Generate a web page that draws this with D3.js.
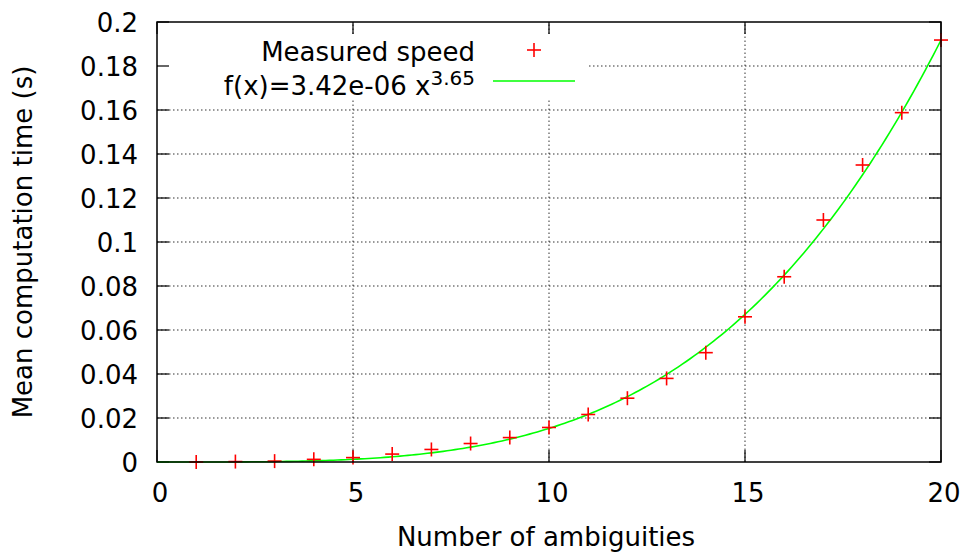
<!DOCTYPE html>
<html>
<head>
<meta charset="utf-8">
<script src="https://cdn.jsdelivr.net/npm/d3@7"></script>
<style>
  body { margin: 0; background: #fff; }
  svg { display: block; font-family: "DejaVu Sans", sans-serif; }
</style>
</head>
<body>
<div id="chart"></div>
<script>
// measured points
const ambiguities = [1, 2, 3, 4, 5, 6, 7, 8, 9, 10, 11, 12, 13, 14, 15, 16, 17, 18, 19, 20];
const meanTime = [0.0000, 0.0002, 0.0004, 0.0012, 0.0020, 0.0036, 0.0057, 0.0084, 0.0111, 0.0157,
                  0.0216, 0.0290, 0.0380, 0.0497, 0.0660, 0.0842, 0.1100, 0.1350, 0.1588, 0.1918];

// fitted power law shown in the key
const fitA = 3.42e-06;
const fitB = 3.65;

const xTicks = [0, 5, 10, 15, 20];
const yTicks = [0, 0.02, 0.04, 0.06, 0.08, 0.1, 0.12, 0.14, 0.16, 0.18, 0.2];
const yTickLabels = ["0", "0.02", "0.04", "0.06", "0.08", "0.1", "0.12", "0.14", "0.16", "0.18", "0.2"];

const width = 963, height = 552;
const margin = {left: 157, right: 22, top: 22, bottom: 90};
const fontSize = 26;

const svg = d3.select("#chart").append("svg")
  .attr("width", width)
  .attr("height", height);

const x = d3.scaleLinear().domain([0, 20]).range([margin.left, width - margin.right]);
const y = d3.scaleLinear().domain([0, 0.2]).range([height - margin.bottom, margin.top]);

const x0 = x.range()[0], x1 = x.range()[1];
const yb = y.range()[0], yt = y.range()[1];

// dotted grid
const grid = svg.append("g")
  .attr("stroke", "#000")
  .attr("stroke-opacity", 0.8)
  .attr("stroke-width", 1)
  .attr("stroke-dasharray", "1.5,2.5");

grid.selectAll(".vg").data(xTicks.slice(1, -1)).enter().append("line")
  .attr("x1", d => x(d)).attr("x2", d => x(d))
  .attr("y1", yb).attr("y2", yt);

grid.selectAll(".hg").data(yTicks.slice(1, -1)).enter().append("line")
  .attr("x1", x0).attr("x2", x1)
  .attr("y1", d => y(d)).attr("y2", d => y(d));

// opaque key background
svg.append("rect")
  .attr("x", x0 + 1).attr("y", 36)
  .attr("width", 431).attr("height", 62)
  .attr("fill", "#fff");

// ticks on all four sides
const tickLen = 12;
const ticks = svg.append("g").attr("stroke", "#000").attr("stroke-width", 1.2);
xTicks.forEach(t => {
  ticks.append("line").attr("x1", x(t)).attr("x2", x(t)).attr("y1", yb).attr("y2", yb - tickLen);
  ticks.append("line").attr("x1", x(t)).attr("x2", x(t)).attr("y1", yt).attr("y2", yt + tickLen);
});
yTicks.forEach(t => {
  ticks.append("line").attr("x1", x0).attr("x2", x0 + tickLen).attr("y1", y(t)).attr("y2", y(t));
  ticks.append("line").attr("x1", x1).attr("x2", x1 - tickLen).attr("y1", y(t)).attr("y2", y(t));
});

// tick labels
svg.selectAll(".xl").data(xTicks).enter().append("text")
  .attr("x", d => x(d) + 3)
  .attr("y", 502)
  .attr("text-anchor", "middle")
  .attr("font-size", fontSize)
  .text(d => d);

svg.selectAll(".yl").data(yTicks).enter().append("text")
  .attr("x", 138)
  .attr("y", d => y(d) + 10)
  .attr("text-anchor", "end")
  .attr("font-size", fontSize)
  .text((d, i) => yTickLabels[i]);

// axis titles
svg.append("text")
  .attr("x", (x0 + x1) / 2 - 3)
  .attr("y", 546)
  .attr("text-anchor", "middle")
  .attr("font-size", fontSize)
  .text("Number of ambiguities");

svg.append("text")
  .attr("transform", `translate(32,${(yb + yt) / 2}) rotate(-90)`)
  .attr("text-anchor", "middle")
  .attr("font-size", fontSize)
  .text("Mean computation time (s)");

// fitted curve
const fitPts = d3.range(0, 20.001, 0.1).map(v => [v, fitA * Math.pow(v, fitB)]);
const line = d3.line().x(d => x(d[0])).y(d => y(d[1]));

svg.append("path")
  .datum(fitPts)
  .attr("d", line)
  .attr("fill", "none")
  .attr("stroke", "#00ff00")
  .attr("stroke-width", 1.6);

// measured points as + marks
const plusSize = 7;
const pts = svg.append("g").attr("stroke", "#ff0000").attr("stroke-width", 1.6);
ambiguities.forEach((a, i) => {
  const px = x(a), py = y(meanTime[i]);
  pts.append("line").attr("x1", px - plusSize).attr("x2", px + plusSize).attr("y1", py).attr("y2", py);
  pts.append("line").attr("x1", px).attr("x2", px).attr("y1", py - plusSize).attr("y2", py + plusSize);
});

// border
svg.append("rect")
  .attr("x", x0).attr("y", yt)
  .attr("width", x1 - x0).attr("height", yb - yt)
  .attr("fill", "none")
  .attr("stroke", "#000")
  .attr("stroke-width", 1.5);

// key
const key = svg.append("g").attr("font-size", fontSize);
key.append("text")
  .attr("x", 475).attr("y", 61)
  .attr("text-anchor", "end")
  .text("Measured speed");

const keyPlus = svg.append("g").attr("stroke", "#ff0000").attr("stroke-width", 1.6);
keyPlus.append("line").attr("x1", 534 - plusSize).attr("x2", 534 + plusSize).attr("y1", 50).attr("y2", 50);
keyPlus.append("line").attr("x1", 534).attr("x2", 534).attr("y1", 50 - plusSize).attr("y2", 50 + plusSize);

const fitLabel = key.append("text")
  .attr("x", 475).attr("y", 95)
  .attr("text-anchor", "end");
fitLabel.append("tspan").text(`f(x)=${fitA.toExponential(2).replace("e-6", "e-06")} x`);
fitLabel.append("tspan")
  .attr("dy", -10)
  .attr("font-size", 20)
  .text(fitB.toFixed(2));

svg.append("line")
  .attr("x1", 493).attr("x2", 575)
  .attr("y1", 81).attr("y2", 81)
  .attr("stroke", "#00ff00")
  .attr("stroke-width", 1.6);
</script>
</body>
</html>
